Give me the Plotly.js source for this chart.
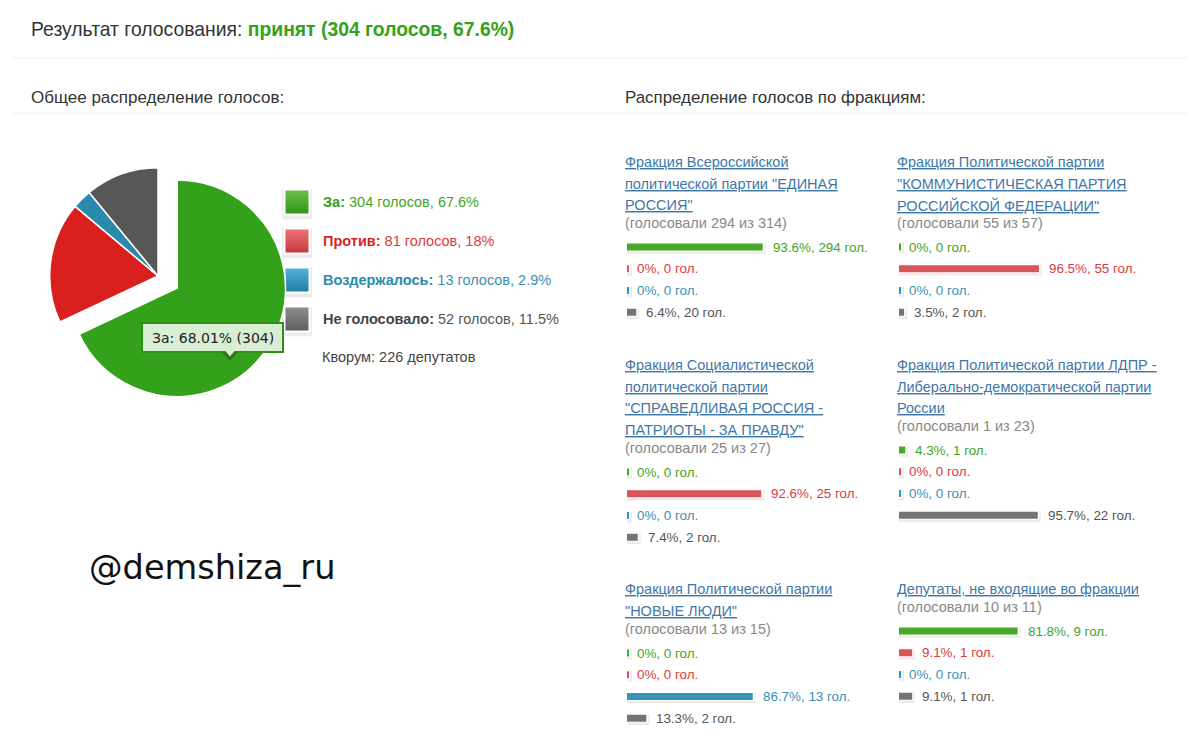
<!DOCTYPE html>
<html><head><meta charset="utf-8">
<script src="https://cdn.plot.ly/plotly-3.0.1.min.js"></script>
<style>html,body{margin:0;padding:0;background:#fff}#c{width:1200px;height:745px}</style></head>
<body><div id="c"></div>
<script>
const voteCategories = ["За","Против","Воздержалось","Не голосовало"];
const voteCounts = [304,81,13,52];
const votePercents = [67.6,18,2.9,11.5];
const pieValues = [304,81,13,49];
const sliceColors = ["#33a11a","#da1f1f","#2b89ac","#575757"];
const labelColors = ["#3fa526","#dc3a3f","#3a90b3","#555555"];
const headColors = ["#33a11a","#dc1f26","#2b89ac","#444444"];
const barColors = ["#47a829","#d9555a","#3596b8","#747474"];
const keyTop = ["#6cc04a","#ee7074","#53b2d6","#8c8c8c"];
const keyBottom = ["#2f9616","#c53a3e","#1f7ea3","#5f5f5f"];

const names = [
 ["Фракция Всероссийской","политической партии \"ЕДИНАЯ","РОССИЯ\""],
 ["Фракция Политической партии","\"КОММУНИСТИЧЕСКАЯ ПАРТИЯ","РОССИЙСКОЙ ФЕДЕРАЦИИ\""],
 ["Фракция Социалистической","политической партии","\"СПРАВЕДЛИВАЯ РОССИЯ -","ПАТРИОТЫ - ЗА ПРАВДУ\""],
 ["Фракция Политической партии ЛДПР -","Либерально-демократической партии","России"],
 ["Фракция Политической партии","\"НОВЫЕ ЛЮДИ\""],
 ["Депутаты, не входящие во фракции"]
];
const turnout = ["(голосовали 294 из 314)","(голосовали 55 из 57)","(голосовали 25 из 27)","(голосовали 1 из 23)","(голосовали 13 из 15)","(голосовали 10 из 11)"];
const pctEdro = [93.6,0,0,6.4], gEdro = [294,0,0,20];
const pctKprf = [0,96.5,0,3.5], gKprf = [0,55,0,2];
const pctSr = [0,92.6,0,7.4], gSr = [0,25,0,2];
const pctLdpr = [4.3,0,0,95.7], gLdpr = [1,0,0,22];
const pctNl = [0,0,86.7,13.3], gNl = [0,0,13,2];
const pctInd = [81.8,9.1,0,9.1], gInd = [9,1,0,1];
const factionPct = [pctEdro,pctKprf,pctSr,pctLdpr,pctNl,pctInd];
const factionVotes = [gEdro,gKprf,gSr,gLdpr,gNl,gInd];

// layout (pixels)
const W=1200,H=745;
const px=x=>x/W, py=y=>1-y/H;
const colX=[624,896], barX=[627,899], barLen=145, rowH=21.75;
const nameTop=[162,162,365,365,589,589];
const turnoutY=[223,223,448,426,629,607];
const firstRow=[247,247,472,450,653,631];

const traces=[], annos=[], layout={
  width:W,height:H,margin:{l:0,r:0,t:0,b:0,pad:0},paper_bgcolor:"#fff",plot_bgcolor:"rgba(0,0,0,0)",
  showlegend:false,barmode:"overlay",font:{family:"Liberation Sans, Arial, sans-serif",size:14,color:"#333"},
  annotations:annos,hovermode:false,
  shapes:[
   {type:"line",xref:"paper",yref:"paper",x0:px(12),x1:px(1188),y0:py(58),y1:py(58),line:{color:"#eeeeee",width:1}},
   {type:"line",xref:"paper",yref:"paper",x0:px(12),x1:px(1188),y0:py(113),y1:py(113),line:{color:"#eeeeee",width:1}},
   {type:"rect",xref:"paper",yref:"paper",layer:"above",x0:px(143),x1:px(284),y0:py(324),y1:py(353),fillcolor:"rgba(0,0,0,0.15)",line:{width:0}},
   {type:"rect",xref:"paper",yref:"paper",layer:"above",x0:px(142),x1:px(283),y0:py(323),y1:py(352),fillcolor:"#d9eed3",line:{color:"#2f8f18",width:2}},
   {type:"path",xref:"paper",yref:"paper",layer:"above",path:`M${px(222)},${py(352)} L${px(230)},${py(361)} L${px(238)},${py(352)} Z`,fillcolor:"#26780f",line:{width:0}},
   {type:"path",xref:"paper",yref:"paper",layer:"above",path:`M${px(225)},${py(350.5)} L${px(230)},${py(356.5)} L${px(235)},${py(350.5)} Z`,fillcolor:"#d9eed3",line:{width:0}}
  ]
};
function text(x,y,t,o={}){
  annos.push(Object.assign({xref:"paper",yref:"paper",x:px(x),y:py(y),text:t,showarrow:false,xanchor:"left",yanchor:"middle",
    xshift:0,yshift:0,borderpad:0,font:Object.assign({size:14.5,color:"#333"},o.font||{})},o.extra||{}));
}
// pie
traces.push({type:"pie",labels:voteCategories,values:pieValues,sort:false,direction:"clockwise",rotation:0,
  pull:[0.21,0,0,0],marker:{colors:sliceColors,line:{color:"#fff",width:1.5}},textinfo:"none",hoverinfo:"skip",
  domain:{x:[px(27),px(289)],y:[py(407),py(145)]}});

// header text
text(30,29,'Результат голосования: <b><span style="color:#33a11a">принят (304 голосов, 67.6%)</span></b>',{font:{size:19.35,color:"#333"}});
text(30,98,"Общее распределение голосов:",{font:{size:17,color:"#333"}});
text(624,98,"Распределение голосов по фракциям:",{font:{size:16.9,color:"#333"}});
text(212.5,338,"За: 68.01% (304)",{font:{size:14,color:"#222",family:"DejaVu Sans"},extra:{xanchor:"center"}});
text(88,567,"@demshiza_ru",{font:{size:33.6,color:"#111",family:"DejaVu Sans"}});

// legend keys
const keyIdx=[0,1,2,3];
const keyAxis={xaxis:"x7",yaxis:"y7"};
traces.push(Object.assign({type:"scatter",mode:"markers",x:[0,0,0,0],y:keyIdx.map(i=>i+0.06),cliponaxis:false,
  marker:{symbol:"square",size:30,color:"#ececec"},hoverinfo:"skip"},keyAxis));
traces.push(Object.assign({type:"scatter",mode:"markers",x:[0,0,0,0],y:keyIdx,cliponaxis:false,
  marker:{symbol:"square",size:27,color:"#fff"},hoverinfo:"skip"},keyAxis));
traces.push(Object.assign({type:"scatter",mode:"markers",x:[0,0,0,0],y:keyIdx,cliponaxis:false,
  marker:{symbol:"square",size:23,color:keyTop,gradient:{type:"vertical",color:keyBottom}},hoverinfo:"skip"},keyAxis));
layout.xaxis7={domain:[px(285),px(309)],range:[-1,1],visible:false,fixedrange:true,anchor:"y7"};
layout.yaxis7={domain:[py(338.5),py(182.5)],range:[3.5,-0.5],visible:false,fixedrange:true,anchor:"x7"};
voteCategories.forEach((c,i)=>{
  annos.push({xref:"paper",yref:"y7",x:px(321),y:i,showarrow:false,xanchor:"left",yanchor:"middle",
    text:`<b><span style="color:${headColors[i]}">${c}:</span></b> ${voteCounts[i]} голосов, ${votePercents[i]}%`,
    font:{size:14.5,color:labelColors[i]}});
});
text(321,357,"Кворум: 226 депутатов",{font:{size:14.5,color:"#444"}});

// factions
const minBar=1.4;
names.forEach((lines,f)=>{
  const col=f%2, n=f+1, xa="x"+n, ya="y"+n;
  lines.forEach((l,i)=>text(colX[col],nameTop[f]+i*21.6,l,{font:{size:14.5,color:"#3f78a8",lineposition:"under"}}));
  text(colX[col],turnoutY[f],turnout[f],{font:{size:14.5,color:"#888"}});
  layout["xaxis"+n]={domain:[px(barX[col]),px(barX[col]+barLen)],range:[0,100],visible:false,fixedrange:true,anchor:ya};
  const top=firstRow[f]-rowH/2;
  layout["yaxis"+n]={domain:[py(top+4*rowH),py(top)],range:[3.5,-0.5],visible:false,fixedrange:true,anchor:xa};
  const vals=factionPct[f], disp=vals.map(v=>Math.max(v,minBar));
  traces.push({type:"bar",orientation:"h",xaxis:xa,yaxis:ya,y:[0,1,2,3],x:disp.map(v=>v+3.4),base:-1.4,
    width:0.5,offset:-0.19,marker:{color:"#ebebeb",line:{width:0}},cliponaxis:false,hoverinfo:"skip"});
  traces.push({type:"bar",orientation:"h",xaxis:xa,yaxis:ya,y:[0,1,2,3],x:disp.map(v=>v+2.0),base:-1.0,
    width:0.42,offset:-0.21,marker:{color:"#fff",line:{width:0}},cliponaxis:false,hoverinfo:"skip"});
  traces.push({type:"bar",orientation:"h",xaxis:xa,yaxis:ya,y:[0,1,2,3],x:disp,
    width:0.33,offset:-0.165,marker:{color:barColors,line:{width:0}},cliponaxis:false,hoverinfo:"skip"});
  vals.forEach((v,i)=>annos.push({xref:xa,yref:ya,x:v,y:i,xshift:8,showarrow:false,xanchor:"left",yanchor:"middle",
    text:`${v}%, ${factionVotes[f][i]} гол.`,font:{size:13.4,color:labelColors[i]}}));
});
Plotly.newPlot("c",traces,layout,{displayModeBar:false,staticPlot:true});
</script></body></html>
